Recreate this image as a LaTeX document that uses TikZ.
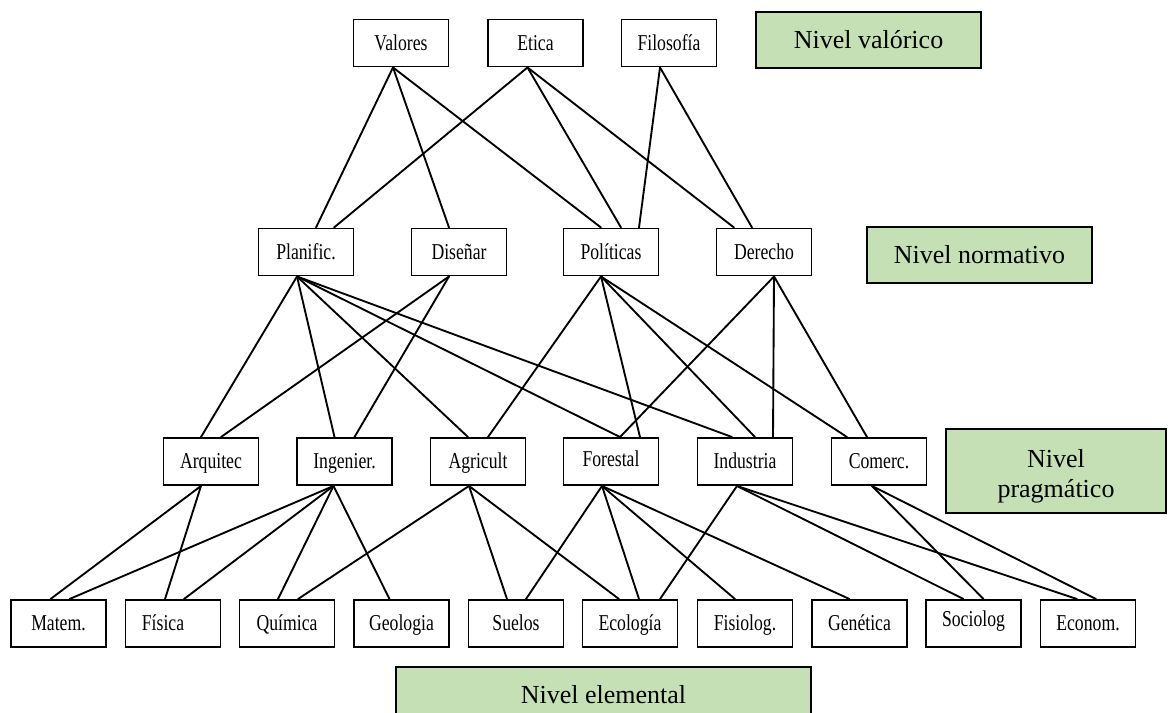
\documentclass[tikz,border=0pt]{standalone}
\usepackage{fontspec}
\setmainfont{Liberation Serif}
\newfontfamily\boxfont[FakeStretch=0.78]{Liberation Serif}
\usetikzlibrary{calc}
\definecolor{levelgreen}{RGB}{197,224,180}

% connector from the bottom of #1 (shifted #2) to the top of #3 (shifted #4)
\newcommand\link[4]{\draw[link] ($(#1.south)+(#2,0)$) -- ($(#3.north)+(#4,0)$);}

\begin{document}
\begin{tikzpicture}[x=0.75pt,y=-0.75pt,
  box/.style={draw=black,line width=1.45pt,fill=white,minimum width=71.25pt,
    minimum height=35.25pt,inner sep=0pt,text height=15pt,text depth=3.8pt,
    font=\boxfont\fontsize{17}{19}\selectfont},
  level/.style={draw=black,line width=1.5pt,fill=levelgreen,inner sep=0pt,
    align=center,font=\fontsize{19.5}{22.5}\selectfont},
  link/.style={line width=1.4pt,line cap=round}]
\clip (0,0) rectangle (1168,713);

% value level
\node[box] (val) at (401,43)   {Valores};
\node[box] (eti) at (535.5,43) {Etica};
\node[box] (fil) at (669,43)   {Filosofía};

% normative level
\node[box] (pla) at (306,252) {Planific.};
\node[box] (dis) at (459,252) {Diseñar};
\node[box] (pol) at (611,252) {Políticas};
\node[box] (der) at (764,252) {Derecho};

% pragmatic level
\node[box] (arq) at (211,461.5)   {Arquitec};
\node[box] (ing) at (344.5,461.5) {Ingenier.};
\node[box] (agr) at (478,461.5)   {Agricult};
\node[box] (for) at (611,461.5)   {\raisebox{2pt}{Forestal}};
\node[box] (ind) at (745,461.5)   {Industria};
\node[box] (com) at (879,461.5)   {Comerc.};

% elemental level
\node[box] (mat) at (58.5,623.5)  {Matem.};
\node[box] (fis) at (173,623.5)   {Física\kern15pt};
\node[box] (qui) at (287,623.5)   {Química};
\node[box] (geo) at (401.5,623.5) {Geologia};
\node[box] (sue) at (516,623.5)   {Suelos};
\node[box] (eco) at (630,623.5)   {Ecología};
\node[box] (fsl) at (745,623.5)   {Fisiolog.};
\node[box] (gen) at (859.5,623.5) {Genética};
\node[box] (soc) at (973.5,623.5) {\raisebox{3pt}{Sociolog}};
\node[box] (ecn) at (1088,623.5)  {Econom.};

% level labels
\node[level,minimum width=168.75pt,minimum height=42pt] (lvA) at (868.5,40)  {Nivel valórico};
\node[level,minimum width=168.75pt,minimum height=42pt] (lvB) at (979.5,255) {Nivel normativo};
\node[level,minimum width=165pt,minimum height=63pt]    (lvC) at (1056,471)  {\rule{0pt}{22pt}Nivel\\pragmático};
\node[level,minimum width=311.25pt,minimum height=42pt] (lvD) at (603.5,695) {Nivel elemental};

% value -> normative
\link{val}{-8}{pla}{10}
\link{val}{-8}{dis}{-10}
\link{val}{-8}{pol}{-10}
\link{eti}{-8}{pla}{28}
\link{eti}{-8}{pol}{10}
\link{eti}{-8}{der}{-30}
\link{fil}{-9}{pol}{28}
\link{fil}{-9}{der}{-12}

% normative -> pragmatic
\link{pla}{-9}{arq}{-10}
\link{pla}{-9}{ing}{-10}
\link{pla}{-9}{agr}{-10}
\link{pla}{-9}{for}{9}
\link{pla}{-9}{ind}{-13}
\link{dis}{-10}{arq}{10}
\link{dis}{-10}{ing}{10}
\link{pol}{-10}{agr}{10}
\link{pol}{-10}{for}{29}
\link{pol}{-10}{ind}{10}
\link{pol}{-10}{com}{-32}
\link{der}{10}{for}{9}
\link{der}{10}{ind}{28}
\link{der}{10}{com}{-12}

% pragmatic -> elemental
\link{arq}{-10}{mat}{-8}
\link{arq}{-10}{fis}{-8}
\link{ing}{-11}{mat}{11}
\link{ing}{-11}{fis}{11}
\link{ing}{-11}{qui}{-9}
\link{ing}{-11}{geo}{-12}
\link{agr}{-9}{qui}{11}
\link{agr}{-9}{sue}{-9}
\link{agr}{-9}{eco}{-11}
\link{for}{-9}{sue}{10}
\link{for}{-9}{eco}{9}
\link{for}{-9}{fsl}{-10}
\link{for}{-9}{gen}{-10}
\link{ind}{-8}{eco}{30}
\link{ind}{-8}{soc}{-10}
\link{ind}{-8}{ecn}{-11}
\link{com}{-7}{soc}{10}
\link{com}{-7}{ecn}{8}
\end{tikzpicture}
\end{document}
